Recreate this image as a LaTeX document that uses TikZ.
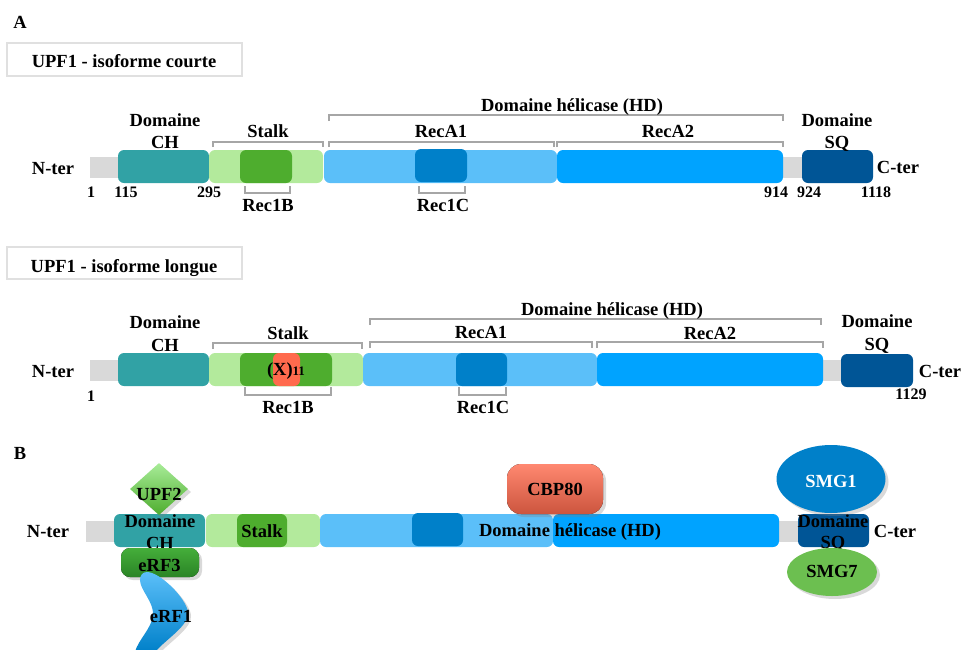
\documentclass[tikz,border=0pt]{standalone}
\usepackage{fontspec}
\setmainfont{Liberation Serif}
\usetikzlibrary{shapes.geometric,shadows,positioning}

\definecolor{chcol}{HTML}{31A2A5}
\definecolor{stalkcol}{HTML}{B3EA9C}
\definecolor{reconeb}{HTML}{4EAD2E}
\definecolor{recaone}{HTML}{5BBFF9}
\definecolor{reconec}{HTML}{0080C9}
\definecolor{recatwo}{HTML}{00A3FF}
\definecolor{sqcol}{HTML}{005596}
\definecolor{linkcol}{HTML}{D9D9D9}
\definecolor{xcol}{HTML}{FF6A4D}
\definecolor{brkcol}{HTML}{A6A6A6}
\definecolor{upftop}{HTML}{A8EC98}
\definecolor{erftop}{HTML}{45AE3A}
\definecolor{erfbot}{HTML}{2A8426}
\definecolor{smgsept}{HTML}{6CBF50}

\tikzset{
  lbl/.style={font=\fontsize{18.5}{20}\selectfont\bfseries, inner sep=0pt, anchor=base},
  num/.style={font=\fontsize{16}{17}\selectfont\bfseries, inner sep=0pt, anchor=base},
  dom/.style={fill=#1, rounded corners=6pt},
  brk/.style={draw=brkcol, line width=1.3pt},
  titlebox/.style={draw=black!12, line width=2pt, fill=white},
  partner/.style={drop shadow={opacity=0.3, shadow xshift=3pt, shadow yshift=-3pt}}
}

\begin{document}
\begin{tikzpicture}[x=1pt,y=-1pt]
\useasboundingbox (0,0) rectangle (964,649);

% A - isoforme courte
\node[lbl] (labA) at (20,28) {A};
\draw[titlebox] (7,43) rectangle (242,76);
\node[lbl] (titleA) at (124,67) {UPF1 - isoforme courte};
\fill[linkcol] (90,157) rectangle (120,178);
\fill[linkcol] (780,157) rectangle (805,178);
\fill[dom=chcol] (118,150) rectangle (209,183);
\fill[dom=stalkcol] (209,150) rectangle (323,183);
\fill[dom=reconeb] (240,150) rectangle (292,183);
\fill[dom=recaone] (324,150) rectangle (557,183);
\fill[dom=reconec] (415,149) rectangle (467,182);
\fill[dom=recatwo] (557,150) rectangle (783,183);
\fill[dom=sqcol] (802,150) rectangle (873,183);
\draw[brk] (213,147) |- (323,142) -- (323,147);
\draw[brk] (329,147) |- (554,142) -- (554,147);
\draw[brk] (557,147) |- (783,142) -- (783,147);
\draw[brk] (329,121) |- (783,115) -- (783,121);
\draw[brk] (245,186) |- (290,193) -- (290,186);
\draw[brk] (419,186) |- (465,193) -- (465,186);
\node[lbl] (chA1) at (165,126) {Domaine};
\node[lbl] (chA2) at (165,148) {CH};
\node[lbl] (stalkA) at (268,137) {Stalk};
\node[lbl] (recaoneA) at (441,137) {RecA1};
\node[lbl] (recatwoA) at (668,137) {RecA2};
\node[lbl] (hdA) at (572,111) {Domaine hélicase (HD)};
\node[lbl] (sqA1) at (837,126) {Domaine};
\node[lbl] (sqA2) at (837,148) {SQ};
\node[lbl] (ntA) at (53,174) {N-ter};
\node[lbl] (ctA) at (898,173) {C-ter};
\node[lbl] (rbA) at (268,211) {Rec1B};
\node[lbl] (rcA) at (443,211) {Rec1C};
\node[num] (nA1) at (91,197) {1};
\node[num] (nA2) at (126,197) {115};
\node[num] (nA3) at (209,197) {295};
\node[num] (nA4) at (776,197) {914};
\node[num] (nA5) at (809,197) {924};
\node[num] (nA6) at (876,197) {1118};

% A - isoforme longue
\draw[titlebox] (7,247) rectangle (242,279);
\node[lbl] (titleL) at (124,272) {UPF1 - isoforme longue};
\fill[linkcol] (90,360) rectangle (120,381);
\fill[linkcol] (820,360) rectangle (844,381);
\fill[dom=chcol] (118,353) rectangle (209,386);
\fill[dom=stalkcol] (209,353) rectangle (363,386);
\fill[dom=reconeb] (240,353) rectangle (332,386);
\fill[dom=xcol] (273,353) rectangle (300,386);
\fill[dom=recaone] (363,353) rectangle (597,386);
\fill[dom=reconec] (456,353) rectangle (507,386);
\fill[dom=recatwo] (597,353) rectangle (823,386);
\fill[dom=sqcol] (841,354) rectangle (913,387);
\draw[brk] (213,349) |- (362,343) -- (362,349);
\draw[brk] (370,348) |- (592,342) -- (592,348);
\draw[brk] (597,348) |- (823,342) -- (823,348);
\draw[brk] (370,325) |- (821,319) -- (821,325);
\draw[brk] (245,387) |- (331,395) -- (331,387);
\draw[brk] (459,387) |- (506,395) -- (506,387);
\node[lbl] (chL1) at (165,328) {Domaine};
\node[lbl] (chL2) at (165,351) {CH};
\node[lbl] (stalkL) at (288,339) {Stalk};
\node[lbl] (recaoneL) at (481,338) {RecA1};
\node[lbl] (recatwoL) at (710,339) {RecA2};
\node[lbl] (hdL) at (612,315) {Domaine hélicase (HD)};
\node[lbl] (sqL1) at (877,327) {Domaine};
\node[lbl] (sqL2) at (877,350) {SQ};
\node[lbl] (ntL) at (53,377) {N-ter};
\node[lbl] (ctL) at (940,377) {C-ter};
\node[lbl] (xL) at (286,375) {(X)\fontsize{13}{14}\selectfont 11};
\node[lbl] (rbL) at (288,413) {Rec1B};
\node[lbl] (rcL) at (483,413) {Rec1C};
\node[num] (nL1) at (91,401) {1};
\node[num] (nL2) at (911,399) {1129};

% B - partenaires
\node[lbl] (labB) at (20,459) {B};
\fill[linkcol] (86,521) rectangle (118,542);
\fill[linkcol] (776,521) rectangle (801,542);
\fill[dom=chcol] (114,514) rectangle (205,547);
\fill[dom=stalkcol] (206,514) rectangle (320,547);
\fill[dom=reconeb] (237,514) rectangle (287,547);
\fill[dom=recaone] (320,514) rectangle (553,547);
\fill[dom=reconec] (412,513) rectangle (463,546);
\fill[dom=recatwo] (553,514) rectangle (779,547);
\fill[dom=sqcol] (798,514) rectangle (869,547);
\node[lbl] (ntB) at (48,537) {N-ter};
\node[lbl] (ctB) at (895,537) {C-ter};
\node[lbl] (chB1) at (160,527) {Domaine};
\node[lbl] (chB2) at (160,549) {CH};
\node[lbl] (stalkB) at (262,537) {Stalk};
\node[lbl] (hdB) at (570,536) {Domaine hélicase (HD)};
\node[lbl] (sqB1) at (833,527) {Domaine};
\node[lbl] (sqB2) at (833,548) {SQ};

\node[diamond, partner, aspect=1.1, minimum width=58, minimum height=52, inner sep=0pt,
  top color=upftop, bottom color=reconeb] (upf2) at (159,489) {};
\node[lbl] (upf2t) at (159,500) {UPF2};
\fill[partner, rounded corners=9pt, top color=erftop, bottom color=erfbot]
  (121,548) rectangle (199,577);
\node[lbl] (erf3) at (159.5,571) {eRF3};
\path[partner, top color=recaone, bottom color=reconec]
  (147,572) .. controls (160,572) and (186,598) .. (188,612)
  .. controls (190,625) and (165,640) .. (155,652) -- (135,652)
  .. controls (138,640) and (152,628) .. (153,615)
  .. controls (154,602) and (140,590) .. (140,580)
  .. controls (140,575) and (143,572) .. (147,572) -- cycle;
\node[lbl] (erf1) at (171,622) {eRF1};
\fill[partner, rounded corners=14pt, top color=xcol!80!white, bottom color=xcol!80!black]
  (507,464) rectangle (603,514);
\node[lbl] (cbp) at (555,495) {CBP80};
\node[ellipse, partner, fill=reconec, minimum width=109, minimum height=68, inner sep=0pt] (smg1) at (831,479) {};
\node[lbl, white] (smg1t) at (831,487) {SMG1};
\node[ellipse, partner, fill=smgsept, minimum width=90, minimum height=48, inner sep=0pt] (smg7) at (832,572) {};
\node[lbl] (smg7t) at (832,577) {SMG7};
\end{tikzpicture}
\end{document}
